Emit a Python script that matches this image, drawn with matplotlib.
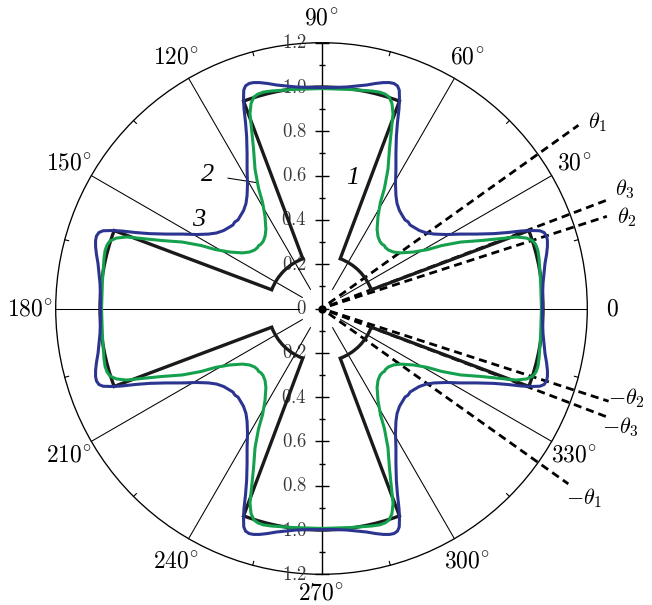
import numpy as np
import matplotlib.pyplot as plt
from matplotlib.path import Path
from matplotlib.patches import PathPatch, Circle

plt.rcParams["mathtext.fontset"] = "cm"

# ------------------------------------------------------------
# data
# ------------------------------------------------------------
R_MAX = 1.2

# curve 1: stepped contour, arms of radius r_arm, gaps of radius r_gap
arm_half_angle = 20.6          # deg
r_arm = 1.0
r_gap = 0.24

# curves 2 and 3: one octant (0..45 deg), cartesian, r units
green_x = [0.993, 0.991, 0.989, 0.986, 0.982, 0.977, 0.968, 0.955, 0.926, 0.880,
           0.813, 0.722, 0.628, 0.542, 0.479, 0.415, 0.357, 0.325, 0.302, 0.289, 0.284]
green_y = [0.000, 0.068, 0.126, 0.172, 0.226, 0.262, 0.287, 0.305, 0.318, 0.323,
           0.316, 0.307, 0.300, 0.284, 0.266, 0.255, 0.251, 0.255, 0.264, 0.275, 0.284]

blue_x = [0.998, 0.998, 1.000, 1.005, 1.009, 1.016, 1.020, 1.020, 1.016, 1.005,
          0.986, 0.948, 0.903, 0.840, 0.777, 0.700, 0.628, 0.564, 0.510, 0.474,
          0.442, 0.418, 0.400, 0.391]
blue_y = [0.000, 0.054, 0.113, 0.163, 0.203, 0.244, 0.280, 0.307, 0.327, 0.343,
          0.351, 0.352, 0.350, 0.343, 0.338, 0.336, 0.336, 0.334, 0.336, 0.341,
          0.352, 0.366, 0.377, 0.391]

# dashed rays: angle (deg), outer radius, label, label anchor (x, y)
ray_angles = [35.5, 20.8, 17.9, -17.9, -20.8, -35.4]
ray_ends = [1.425, 1.387, 1.354, 1.362, 1.374, 1.367]
ray_labels = [r"$\theta_1$", r"$\theta_3$", r"$\theta_2$",
              r"$-\theta_2$", r"$-\theta_3$", r"$-\theta_1$"]
ray_label_xy = [(1.203, 0.842), (1.325, 0.537), (1.334, 0.413),
                (1.293, -0.405), (1.266, -0.535), (1.104, -0.857)]

# polar grid
grid_angles = [0, 30, 60, 120, 150, 180, 210, 240, 300, 330]
angle_ticks = list(range(0, 360, 30))
angle_tick_labels = ["$0$"] + [rf"${a}^{{\!\circ}}$" for a in angle_ticks[1:]]
minor_angles = list(range(15, 360, 30))
r_ticks = np.round(np.arange(-1.2, 1.21, 0.1), 1)
r_labels_at = np.round(np.arange(-1.2, 1.21, 0.2), 1)

BLUE = "#2b3590"
GREEN = "#14a04c"


def full_contour(ox, oy):
    """Mirror one octant about 45 deg, then repeat in all four quadrants."""
    ox, oy = np.asarray(ox), np.asarray(oy)
    qx = np.concatenate([ox, oy[::-1][1:]])
    qy = np.concatenate([oy, ox[::-1][1:]])
    xs, ys = [qx], [qy]
    for _ in range(3):
        qx, qy = -qy, qx
        xs.append(qx[1:])
        ys.append(qy[1:])
    return np.concatenate(xs), np.concatenate(ys)


def stepped_path(theta, radius):
    """Closed path: arcs where the radius stays the same, radial lines otherwise."""
    verts = [(radius[0] * np.cos(np.radians(theta[0])),
              radius[0] * np.sin(np.radians(theta[0])))]
    codes = [Path.MOVETO]
    n = len(theta)
    for k in range(n):
        t0, r0 = theta[k], radius[k]
        t1, r1 = theta[(k + 1) % n], radius[(k + 1) % n]
        if k == n - 1:
            t1 += 360
        if r0 == r1 and t1 != t0:
            arc = Path.arc(t0, t1)
            verts.extend(arc.vertices[1:] * r0)
            codes.extend(arc.codes[1:])
        else:
            verts.append((r1 * np.cos(np.radians(t1)), r1 * np.sin(np.radians(t1))))
            codes.append(Path.LINETO)
    verts.append(verts[0])
    codes.append(Path.CLOSEPOLY)
    return Path(verts, codes)


# ------------------------------------------------------------
# figure
# ------------------------------------------------------------
fig = plt.figure(figsize=(6.52, 6.05), dpi=100)
ax = fig.add_axes([0, 0, 1, 1])
ax.set_xlim(-1.4515, 1.4921)
ax.set_ylim(-1.3386, 1.3928)
ax.axis("off")

# outer circle and minor ticks on it
ax.add_patch(Circle((0, 0), R_MAX, fill=False, lw=0.95, color="black"))
for a in minor_angles:
    c, s = np.cos(np.radians(a)), np.sin(np.radians(a))
    ax.plot([R_MAX * c, (R_MAX - 0.018) * c], [R_MAX * s, (R_MAX - 0.018) * s],
            color="black", lw=0.8)

# radial grid lines
for a in grid_angles:
    c, s = np.cos(np.radians(a)), np.sin(np.radians(a))
    ax.plot([0.1 * c, R_MAX * c], [0.1 * s, R_MAX * s], color="black", lw=0.75)

# vertical axis with ticks and labels
ax.plot([0, 0], [-R_MAX, R_MAX], color="black", lw=1.0)
is_major = np.isclose(np.abs(r_ticks * 5) % 1, 0) | np.isclose(np.abs(r_ticks * 5) % 1, 1)
ax.plot(np.zeros(is_major.sum()), r_ticks[is_major], ls="none", marker="_",
        ms=9.5, mew=1.0, color="black")
ax.plot(np.zeros((~is_major).sum()), r_ticks[~is_major], ls="none", marker="_",
        ms=5.0, mew=1.0, color="black")
for v in r_labels_at:
    txt = "0" if v == 0 else f"{abs(v):.1f}"
    ax.text(-0.066, v, f"${txt}$", ha="right", va="center", fontsize=13.5,
            color="#3a3a3a", zorder=1)

# angle labels
for a, lab in zip(angle_ticks, angle_tick_labels):
    rr = 1.28 if a == 270 else 1.315
    ax.text(rr * np.cos(np.radians(a)), rr * np.sin(np.radians(a)), lab,
            ha="center", va="center", fontsize=17)

# dashed rays
for a, r_end, lab, (lx, ly) in zip(ray_angles, ray_ends, ray_labels, ray_label_xy):
    c, s = np.cos(np.radians(a)), np.sin(np.radians(a))
    ax.plot([0.04 * c, r_end * c], [0.04 * s, r_end * s], color="black", lw=2.0,
            ls=(0, (2.9, 1.8)), zorder=4)
    ax.text(lx, ly, lab, ha="left", va="center", fontsize=16)

# curve 1 (stepped)
th, rad = [], []
for q in range(4):
    base = 90 * q
    th += [base - arm_half_angle, base + arm_half_angle,
           base + arm_half_angle, base + 90 - arm_half_angle]
    rad += [r_arm, r_arm, r_gap, r_gap]
ax.add_patch(PathPatch(stepped_path(th, rad), fill=False, lw=2.4,
                       ec="#1a1a1a", joinstyle="miter", zorder=5))

# curves 2 and 3
gx, gy = full_contour(green_x, green_y)
bx, by = full_contour(blue_x, blue_y)
ax.plot(gx, gy, color=GREEN, lw=2.2, zorder=6)
ax.plot(bx, by, color=BLUE, lw=2.2, zorder=6)

# centre point
ax.plot(0, 0, "o", ms=5, color="black", zorder=7)

# curve numbers
num_style = dict(fontsize=19, family="Liberation Serif", style="italic",
                 ha="center", va="center")
ax.text(0.142, 0.589, "1", **num_style)
ax.annotate("2", xy=(-0.285, 0.567), xytext=(-0.515, 0.603),
            arrowprops=dict(arrowstyle="-", lw=0.75, color="black",
                            shrinkA=8, shrinkB=0), **num_style)
ax.text(-0.553, 0.400, "3", **num_style)

fig.savefig("out.png", dpi=100)
